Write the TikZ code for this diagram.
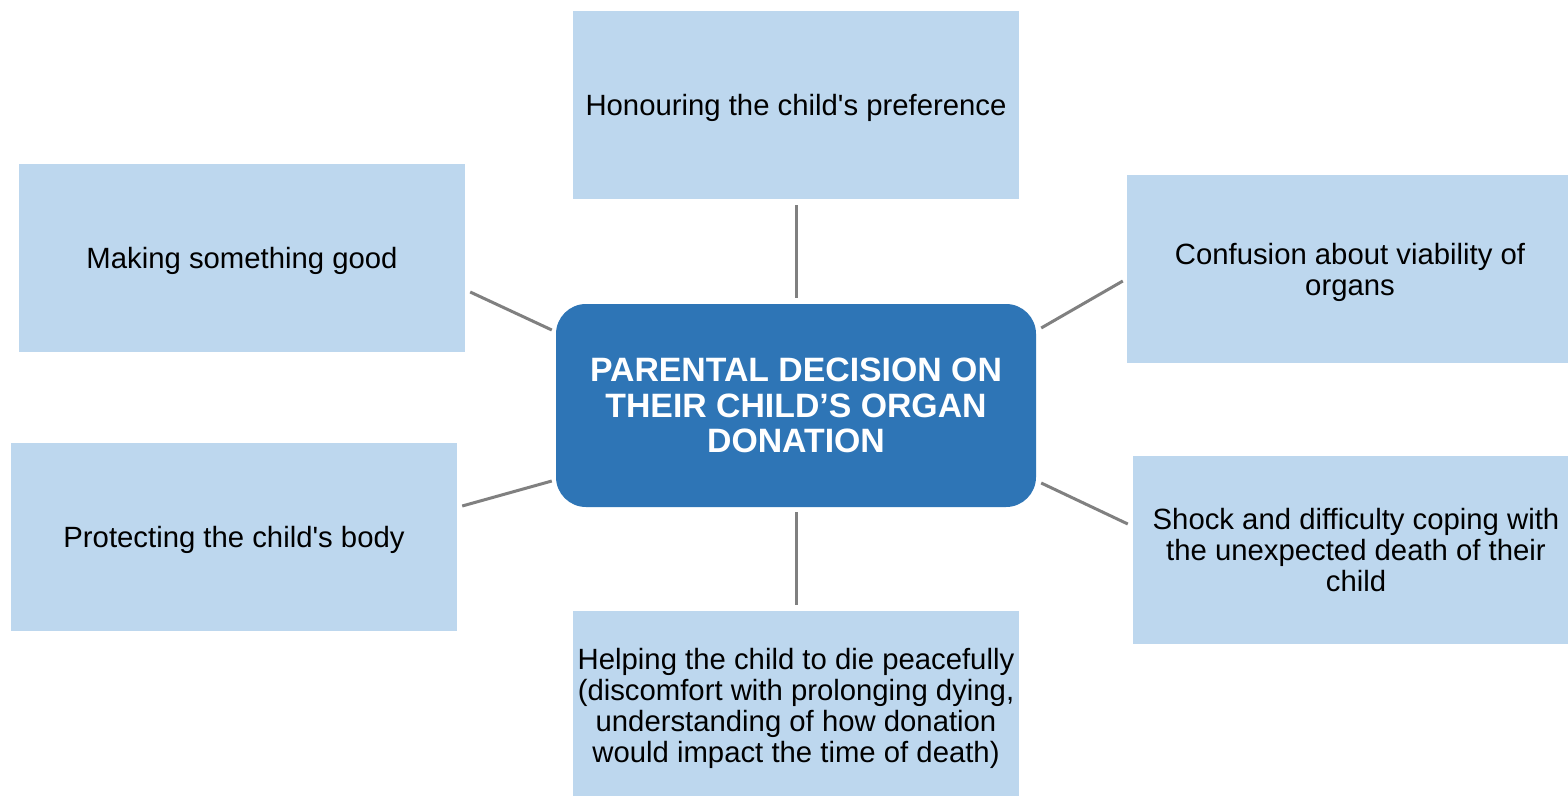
\documentclass[tikz,border=0pt]{standalone}
\usepackage{fontspec}
\setmainfont{Liberation Sans}
\definecolor{lightbox}{HTML}{BDD7EE}
\definecolor{centerbox}{HTML}{2E75B6}
\definecolor{linkgray}{HTML}{808080}
\begin{document}
\begin{tikzpicture}[x=1pt,y=-1pt,
  topic/.style={rectangle,fill=lightbox,draw=none,inner sep=0pt,
    minimum width=446pt,minimum height=188pt,align=center,text depth=0pt,
    font=\fontsize{29.3}{31}\selectfont,text=black},
  hub/.style={rectangle,rounded corners=30pt,fill=centerbox,draw=none,inner sep=0pt,
    minimum width=480pt,minimum height=203pt,align=center,
    font=\fontsize{33.8}{35.5}\selectfont\bfseries,text=white},
  link/.style={draw=linkgray,line width=3pt}]
\clip (0,0) rectangle (1568,795);
\fill[white] (0,0) rectangle (1568,795);
\node[hub] (ctr) at (796,405.5) {PARENTAL DECISION ON\\THEIR CHILD’S ORGAN\\DONATION};
\node[topic] (top) at (796,105) {Honouring the child\textquotesingle s preference};
\node[topic] (lt) at (242,258) {Making something good};
\node[topic] (lb) at (234,536.5) {Protecting the child\textquotesingle s body};
\node[topic] (rt) at (1350,269) {Confusion about viability of\\organs};
\node[topic] (rb) at (1356,550) {Shock and difficulty coping with\\the unexpected death of their\\child};
\node[topic] (bot) at (796,705) {Helping the child to die peacefully\\(discomfort with prolonging dying,\\understanding of how donation\\would impact the time of death)};
\draw[link,shorten <=6pt,shorten >=6pt] (top.south) -- (ctr.north);
\draw[link,shorten <=5pt,shorten >=6pt] (ctr.south) -- (bot.north);
\draw[link] ([xshift=5pt,yshift=-34pt]lt.east) -- ([xshift=-4pt,yshift=75.5pt]ctr.west);
\draw[link] ([xshift=5pt,yshift=30.5pt]lb.east) -- ([xshift=-4pt,yshift=-75.5pt]ctr.west);
\draw[link] ([xshift=5pt,yshift=77.5pt]ctr.east) -- ([xshift=-4pt,yshift=-12pt]rt.west);
\draw[link] ([xshift=5pt,yshift=-77.5pt]ctr.east) -- ([xshift=-5pt,yshift=26pt]rb.west);
\end{tikzpicture}
\end{document}
